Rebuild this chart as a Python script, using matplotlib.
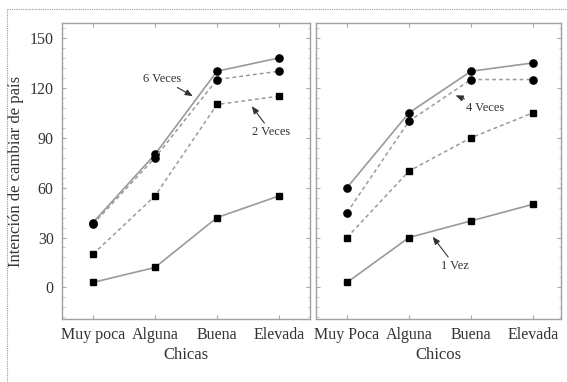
import matplotlib
matplotlib.use("Agg")
import matplotlib.pyplot as plt
from matplotlib.lines import Line2D
from matplotlib.ticker import MultipleLocator

plt.rcParams['font.family'] = ['Liberation Serif', 'DejaVu Serif']

# Categories
cats_chicas = ["Muy poca", "Alguna", "Buena", "Elevada"]
cats_chicos = ["Muy Poca", "Alguna", "Buena", "Elevada"]

# Chicas
chicas_6 = [39, 80, 130, 138]
chicas_4 = [38, 78, 125, 130]
chicas_2 = [20, 55, 110, 115]
chicas_1 = [3, 12, 42, 55]

# Chicos
chicos_6 = [60, 105, 130, 135]
chicos_4 = [45, 100, 125, 125]
chicos_2 = [30, 70, 90, 105]
chicos_1 = [3, 30, 40, 50]

yticks = [0, 30, 60, 90, 120, 150]

W, H = 567, 382
fig = plt.figure(figsize=(W / 100, H / 100), dpi=100)

# dotted frame around the figure
fig.add_artist(Line2D([7 / W, 1.0], [1 - 9 / H, 1 - 9 / H], transform=fig.transFigure,
                      color="#999999", lw=0.8, ls=(0, (1, 1))))
fig.add_artist(Line2D([7 / W, 7 / W], [0.0, 1 - 9 / H], transform=fig.transFigure,
                      color="#999999", lw=0.8, ls=(0, (1, 1))))

bottom = 1 - 319 / H
height = (319 - 23) / H
ax1 = fig.add_axes([62 / W, bottom, 248 / W, height])
ax2 = fig.add_axes([316 / W, bottom, 245 / W, height])

solid_kw = dict(color="#9a9a9a", lw=1.2, ls="-")
dot_kw = dict(color="#9a9a9a", lw=1.1, ls=(0, (2.5, 2.0)))
circ = dict(marker="o", ms=5.2, mfc="black", mec="black")
sq = dict(marker="s", ms=5.0, mfc="black", mec="black")

text_color = "#333333"

def style(ax, cats, xmax, show_ylabels):
    x = range(len(cats))
    ax.set_xlim(-0.5, xmax)
    ax.set_ylim(-19, 159)
    ax.set_xticks(list(x))
    ax.set_xticklabels(cats, fontsize=11.5, color=text_color)
    ax.set_yticks(yticks)
    ax.yaxis.set_minor_locator(MultipleLocator(6))
    if show_ylabels:
        ax.set_yticklabels([str(v) for v in yticks], fontsize=11.5, color=text_color)
    else:
        ax.set_yticklabels([])
    ax.tick_params(axis="both", which="major", direction="in", length=3,
                   color="#aaaaaa", width=0.8, top=True, right=True, pad=6)
    ax.tick_params(axis="both", which="minor", direction="in", length=1.8,
                   color="#bbbbbb", width=0.6, left=True, right=True)
    ax.tick_params(axis="x", which="minor", bottom=False, top=False)
    for s in ax.spines.values():
        s.set_color("#a0a0a0")
        s.set_linewidth(1.0)

x = list(range(4))

ax1.plot(x, chicas_6, **solid_kw, **circ)
ax1.plot(x, chicas_4, **dot_kw, **circ)
ax1.plot(x, chicas_2, **dot_kw, **sq)
ax1.plot(x, chicas_1, **solid_kw, **sq)

ax2.plot(x, chicos_6, **solid_kw, **circ)
ax2.plot(x, chicos_4, **dot_kw, **circ)
ax2.plot(x, chicos_2, **dot_kw, **sq)
ax2.plot(x, chicos_1, **solid_kw, **sq)

style(ax1, cats_chicas, 3.5, True)
style(ax2, cats_chicos, 3.45, False)

ax1.set_ylabel("Intención de cambiar de país", fontsize=12, color=text_color)
ax1.yaxis.set_label_coords(-0.153, 0.5)
ax1.set_xlabel("Chicas", fontsize=12, color=text_color)
ax1.xaxis.set_label_coords(0.5, -0.095)
ax2.set_xlabel("Chicos", fontsize=12, color=text_color)
ax2.xaxis.set_label_coords(0.5, -0.095)

arrow = dict(arrowstyle="-|>,head_length=0.5,head_width=0.2", color="#333333", lw=0.8,
             shrinkA=0, shrinkB=0)
ann = dict(fontsize=9, color=text_color, ha="center", va="center", arrowprops=arrow)

ax1.annotate("6 Veces", xy=(1.61, 115), xytext=(1.11, 125.5), **ann)
ax1.annotate("2 Veces", xy=(2.56, 109), xytext=(2.87, 93.5), **ann)
ax2.annotate("4 Veces", xy=(1.75, 115.5), xytext=(2.23, 108), **ann)
ax2.annotate("1 Vez", xy=(1.38, 30.5), xytext=(1.74, 13), **ann)

fig.savefig("out.png", dpi=100)
